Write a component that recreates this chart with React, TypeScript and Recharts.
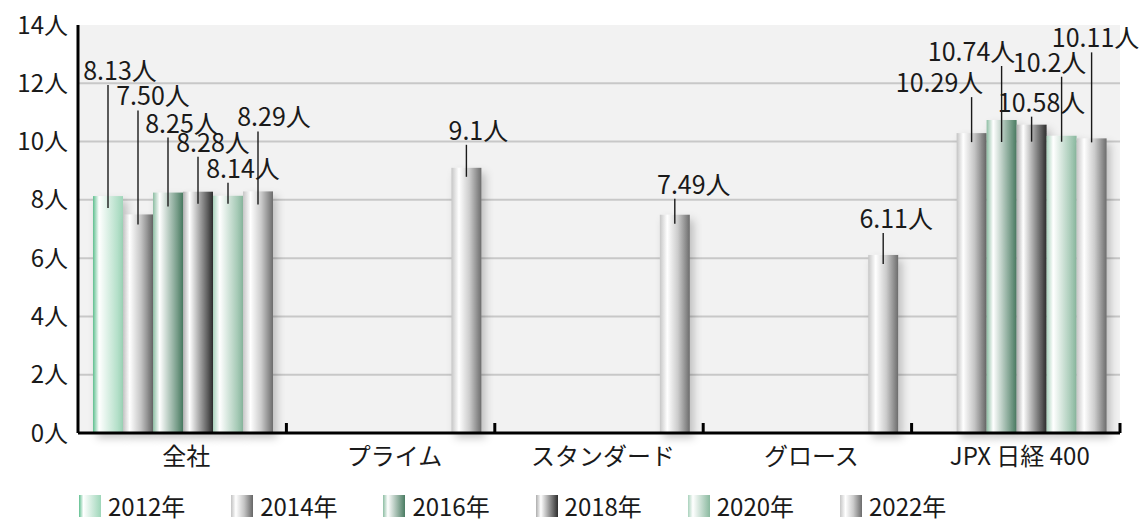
import { BarChart, Bar, XAxis, YAxis, CartesianGrid, Legend, LabelList } from 'recharts';

/* ------------------------------------------------------------------ */
/*  Data                                                               */
/* ------------------------------------------------------------------ */

const CATEGORIES = ['全社', 'プライム', 'スタンダード', 'グロース', 'JPX 日経 400'];
const YEARS = ['2012年', '2014年', '2016年', '2018年', '2020年', '2022年'];

// values as printed on the chart (null = no bar)
const V2012 = ['8.13', null, null, null, null];
const V2014 = ['7.50', null, null, null, '10.29'];
const V2016 = ['8.25', null, null, null, '10.74'];
const V2018 = ['8.28', null, null, null, '10.58'];
const V2020 = ['8.14', null, null, null, '10.2'];
const V2022 = ['8.29', '9.1', '7.49', '6.11', '10.11'];

const Y_TICKS = [0, 2, 4, 6, 8, 10, 12, 14];
const GRID_VALUES = [2, 4, 6, 8, 10, 12];

const SERIES_VALUES = [V2012, V2014, V2016, V2018, V2020, V2022];

/* ------------------------------------------------------------------ */
/*  Layout / style                                                     */
/* ------------------------------------------------------------------ */

const W = 1145;
const H = 529;
const MARGIN = { top: 25, right: 25, left: 0, bottom: 0 };
const Y_AXIS_W = 78;
const X_AXIS_H = 40;
const LEGEND_H = 56;
const PLOT_LEFT = MARGIN.left + Y_AXIS_W;
const PLOT_RIGHT = W - MARGIN.right;
const PLOT_BOTTOM = H - LEGEND_H - X_AXIS_H;
const BAND = (PLOT_RIGHT - PLOT_LEFT) / CATEGORIES.length;

const FONT = "'Noto Sans CJK JP', 'Noto Sans', sans-serif";
const TEXT = '#1a1a1a';

// horizontal cylinder-ish gradients per year
const GRADIENTS: [string, string][][] = [
  [['0%', '#5fbf8f'], ['20%', '#ffffff'], ['100%', '#9ed6b9']],
  [['0%', '#c2c2c2'], ['22%', '#ffffff'], ['60%', '#c4c4c4'], ['100%', '#666666']],
  [['0%', '#8dbda3'], ['22%', '#ffffff'], ['100%', '#4a7c62']],
  [['0%', '#adadad'], ['22%', '#ffffff'], ['100%', '#2e2e2e']],
  [['0%', '#a9d2bc'], ['22%', '#ffffff'], ['100%', '#8ab99f']],
  [['0%', '#c6c6c6'], ['25%', '#ffffff'], ['60%', '#cccccc'], ['100%', '#6c6c6c']],
];

// leader-line label placement: [rise above bar top, text dx from line, line sink into bar]
const LABEL_POS: ([number, number, number] | null)[][] = [
  [[111, 12, 12], null, null, null, null],
  [[104, 15, 10], null, null, null, [36, -32, 9]],
  [[55, 14, 14], null, null, null, [54, -30, 22]],
  [[35, 15, 12], null, null, null, [8, 10, 17]],
  [[13, 15, 8], null, null, null, [59, -12, 6]],
  [[60, 16, 13], [23, 12, 9], [16, 19, 9], [22, 13, 9], [86, 4, 4]],
];

/* ------------------------------------------------------------------ */
/*  Pieces                                                             */
/* ------------------------------------------------------------------ */

const chartData = CATEGORIES.map((cat, i) => {
  const row: Record<string, string | number | null> = { cat };
  SERIES_VALUES.forEach((vals, s) => {
    const v = vals[i];
    row[`s${s}`] = v == null ? null : Number(v);
  });
  return row;
});

function GradBar(props: any) {
  const { x, y, width, height, fill } = props;
  if (!height || height <= 0) return null;
  return <rect x={x} y={y} width={width} height={height} fill={fill} filter="url(#barShadow)" />;
}

function makeLabel(s: number) {
  return function LeaderLabel(props: any) {
    const { x, y, width } = props;
    // category from the bar position (LabelList skips null entries)
    const cat = Math.floor((x + width / 2 - PLOT_LEFT) / BAND);
    const text = SERIES_VALUES[s][cat];
    const pos = LABEL_POS[s][cat];
    if (text == null || pos == null) return null;
    const [rise, dx, sink] = pos;
    const lx = x + width / 2;
    const top = y - rise;
    return (
      <g>
        <line x1={lx} x2={lx} y1={top} y2={y + sink} stroke={TEXT} strokeWidth={1.4} />
        <text
          x={lx + dx}
          y={top - 5}
          textAnchor="middle"
          fontSize={25}
          fontFamily={FONT}
          fill={TEXT}
        >
          {`${text}人`}
        </text>
      </g>
    );
  };
}

function CatTick(props: any) {
  const { x, payload } = props;
  return (
    <g>
      <line
        x1={x + BAND / 2}
        x2={x + BAND / 2}
        y1={PLOT_BOTTOM}
        y2={PLOT_BOTTOM - 10}
        stroke="#000"
        strokeWidth={3}
      />
      <text x={x + 4} y={PLOT_BOTTOM + 32} textAnchor="middle" fontSize={24} fontFamily={FONT} fill={TEXT}>
        {payload.value}
      </text>
    </g>
  );
}

function cssGradient(stops: [string, string][]) {
  return `linear-gradient(to right, ${stops.map(([o, c]) => `${c} ${o}`).join(', ')})`;
}

function LegendBox() {
  return (
    <div style={{ position: 'relative', width: W, height: LEGEND_H, fontFamily: FONT }}>
      {YEARS.map((name, i) => (
        <div
          key={name}
          style={{
            position: 'absolute',
            left: 79 + i * 152.2,
            top: 22,
            display: 'flex',
            alignItems: 'center',
            gap: 7,
          }}
        >
          <div style={{ width: 22, height: 22, background: cssGradient(GRADIENTS[i]) }} />
          <span style={{ fontSize: 24, color: TEXT, lineHeight: '22px' }}>{name}</span>
        </div>
      ))}
    </div>
  );
}

/* ------------------------------------------------------------------ */
/*  Component                                                          */
/* ------------------------------------------------------------------ */

export default function App() {
  return (
    <div style={{ position: 'absolute', left: 0, top: 0, width: W, height: H, background: '#fff', fontFamily: FONT }}>
      <BarChart
        width={W}
        height={H}
        data={chartData}
        margin={MARGIN}
        barCategoryGap={15}
        barGap={0}
      >
        <defs>
          {GRADIENTS.map((stops, i) => (
            <linearGradient key={i} id={`g${i}`} x1="0" y1="0" x2="1" y2="0">
              {stops.map(([o, c]) => (
                <stop key={o} offset={o} stopColor={c} />
              ))}
            </linearGradient>
          ))}
          <filter id="barShadow" x="-20%" y="-10%" width="160%" height="130%">
            <feDropShadow dx={4} dy={5} stdDeviation={4} floodColor="#000" floodOpacity={0.22} />
          </filter>
        </defs>
        <CartesianGrid
          vertical={false}
          horizontalValues={GRID_VALUES}
          stroke="#c8c8c8"
          strokeWidth={2}
          fill="#f2f2f2"
          fillOpacity={1}
        />
        <XAxis
          dataKey="cat"
          height={X_AXIS_H}
          interval={0}
          tickLine={false}
          axisLine={{ stroke: '#000', strokeWidth: 3 }}
          tick={<CatTick />}
        />
        <YAxis
          width={Y_AXIS_W}
          domain={[0, 14]}
          ticks={Y_TICKS}
          tickLine={false}
          tickMargin={4}
          axisLine={{ stroke: '#000', strokeWidth: 3 }}
          tick={{ fill: TEXT, fontSize: 24, fontFamily: FONT }}
          tickFormatter={(v: number) => `${v}人`}
        />
        <Legend verticalAlign="bottom" content={() => <LegendBox />} wrapperStyle={{ left: 0, width: W, height: LEGEND_H }} />
        {YEARS.map((name, s) => (
          <Bar
            key={name}
            dataKey={`s${s}`}
            name={name}
            fill={`url(#g${s})`}
            shape={GradBar}
            isAnimationActive={false}
          >
            <LabelList dataKey={`s${s}`} content={makeLabel(s)} />
          </Bar>
        ))}
      </BarChart>
    </div>
  );
}
